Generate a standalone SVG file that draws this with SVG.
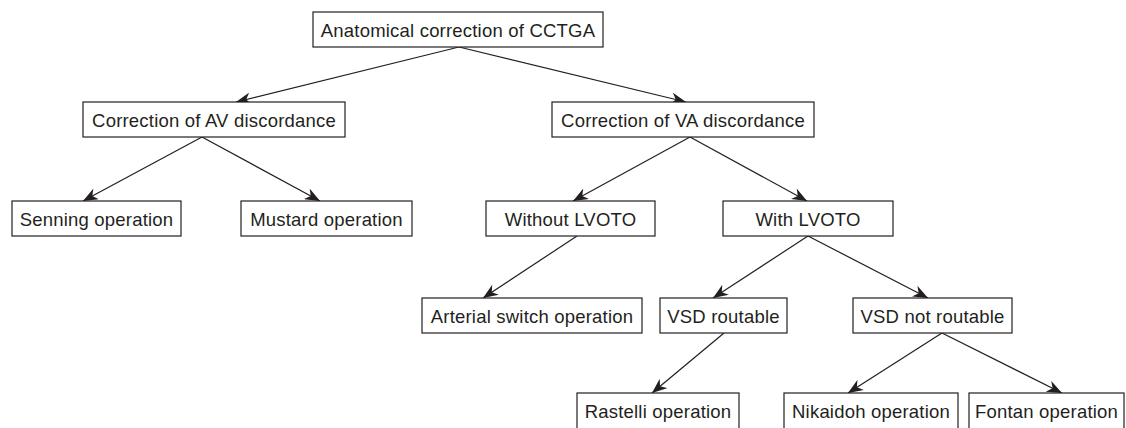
<svg xmlns="http://www.w3.org/2000/svg" width="1126" height="428" viewBox="0 0 1126 428">
<style>
.box{fill:#ffffff;stroke:#231f20;stroke-width:1.2}
.lbl{font-family:"Liberation Sans",Arial,sans-serif;font-size:18.5px;letter-spacing:0.2px;fill:#231f20;text-anchor:middle}
.con{stroke:#231f20;stroke-width:1.2;fill:none;marker-end:url(#ah)}
</style>
<defs>
<marker id="ah" markerUnits="userSpaceOnUse" markerWidth="16" markerHeight="12" refX="15" refY="6" orient="auto" viewBox="0 0 16 12">
<path d="M0,0 L15,6 L0,12 L4.5,6 Z" fill="#231f20"/>
</marker>
</defs>
<rect width="1126" height="428" fill="#ffffff"/>
<g id="connectors">
<line class="con" x1="459" y1="47" x2="236" y2="102"/>
<line class="con" x1="459" y1="47" x2="686" y2="102"/>
<line class="con" x1="202" y1="137" x2="83" y2="201"/>
<line class="con" x1="202" y1="137" x2="320" y2="201"/>
<line class="con" x1="690" y1="137" x2="573" y2="201"/>
<line class="con" x1="690" y1="137" x2="807" y2="201"/>
<line class="con" x1="577" y1="236" x2="483" y2="298"/>
<line class="con" x1="808" y1="236" x2="713" y2="298"/>
<line class="con" x1="808" y1="236" x2="928" y2="298"/>
<line class="con" x1="724" y1="333" x2="652" y2="393"/>
<line class="con" x1="942" y1="333" x2="848" y2="393"/>
<line class="con" x1="942" y1="333" x2="1062" y2="393"/>
</g>
<g id="root"><rect class="box" x="313" y="12" width="290" height="35"/><text class="lbl" x="458" y="37">Anatomical correction of CCTGA</text></g>
<g id="av"><rect class="box" x="83" y="102" width="262" height="35"/><text class="lbl" x="214" y="127">Correction of AV discordance</text></g>
<g id="va"><rect class="box" x="552" y="102" width="262" height="35"/><text class="lbl" x="683" y="127">Correction of VA discordance</text></g>
<g id="senning"><rect class="box" x="12" y="201" width="169" height="35"/><text class="lbl" x="96.5" y="226">Senning operation</text></g>
<g id="mustard"><rect class="box" x="241" y="201" width="171" height="35"/><text class="lbl" x="326.5" y="226">Mustard operation</text></g>
<g id="without"><rect class="box" x="486" y="201" width="169" height="35"/><text class="lbl" x="570.5" y="226">Without LVOTO</text></g>
<g id="with"><rect class="box" x="723" y="201" width="170" height="35"/><text class="lbl" x="808" y="226">With LVOTO</text></g>
<g id="arterial"><rect class="box" x="422" y="298" width="220" height="35"/><text class="lbl" x="532" y="323">Arterial switch operation</text></g>
<g id="vsdr"><rect class="box" x="660" y="298" width="127" height="35"/><text class="lbl" x="723.5" y="323">VSD routable</text></g>
<g id="vsdnr"><rect class="box" x="853" y="298" width="159" height="35"/><text class="lbl" x="932.5" y="323">VSD not routable</text></g>
<g id="rastelli"><rect class="box" x="577" y="393" width="162" height="40"/><text class="lbl" x="658" y="418">Rastelli operation</text></g>
<g id="nikaidoh"><rect class="box" x="784" y="393" width="174" height="40"/><text class="lbl" x="871" y="418">Nikaidoh operation</text></g>
<g id="fontan"><rect class="box" x="969" y="393" width="155" height="40"/><text class="lbl" x="1046.5" y="418">Fontan operation</text></g>
</svg>
